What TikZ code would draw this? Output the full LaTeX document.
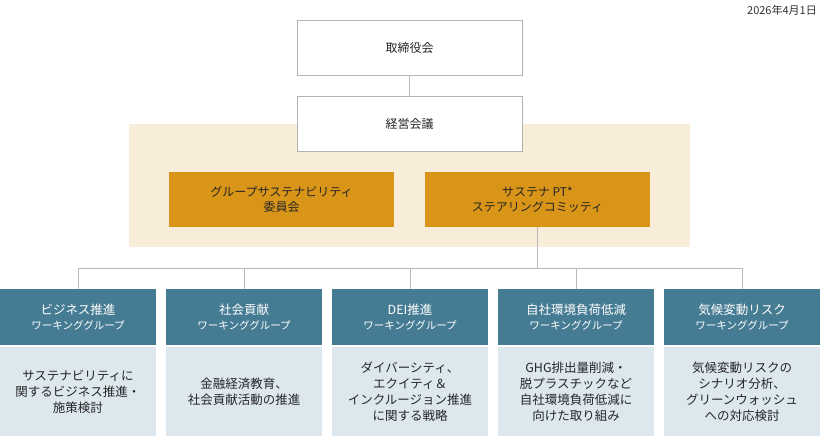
\documentclass[tikz,border=0pt]{standalone}
\usepackage{fontspec}
\setmainfont{Noto Sans CJK JP}
\begin{document}
\begin{tikzpicture}[x=1pt,y=-1pt,
 box/.style={draw=gray!60,fill=white,minimum width=225pt,minimum height=55pt,inner sep=0pt,font=\fontsize{12}{15}\selectfont,text=black!85},
 org/.style={fill=orange1,minimum width=225pt,minimum height=55pt,inner sep=0pt,align=center,font=\fontsize{12}{15}\selectfont,text=black!85},
 hd/.style={fill=teal1,minimum width=156pt,minimum height=56pt,inner sep=0pt,align=center,text=white,font=\fontsize{12.5}{17}\selectfont},
 bd/.style={fill=light1,minimum width=156pt,minimum height=89pt,inner sep=0pt,align=center,text=black!85,font=\fontsize{12.5}{16}\selectfont},
 ln/.style={draw=gray!55,line width=0.9pt}]
\definecolor{orange1}{HTML}{D99518}
\definecolor{teal1}{HTML}{467C93}
\definecolor{light1}{HTML}{DCE8EE}
\definecolor{beige}{HTML}{F8EDD8}
\useasboundingbox (0,0) rectangle (820,436);
\node[anchor=north east,font=\fontsize{11}{13}\selectfont,text=black!80,inner sep=0pt] (date) at (817,5) {2026年4月1日};
\fill[beige] (129,124) rectangle (690,247);
\node[box] (bod) at (409.5,47.5) {取締役会};
\node[box] (mgm) at (409.5,123.5) {経営会議};
\draw[ln] (bod) -- (mgm);
\node[org] (com) at (281.5,199.5) {グループサステナビリティ\\委員会};
\node[org] (pt) at (537.5,199.5) {サステナ PT*\\ステアリングコミッティ};
\coordinate (j) at (537.5,268);
\coordinate (l) at (78,268);
\coordinate (r) at (742,268);
\draw[ln] (pt) -- (j);
\draw[ln] (l) -- (r);
\foreach \i/\x/\a/\b in {1/78/ビジネス推進/{サステナビリティに\\関するビジネス推進・\\施策検討},
 2/244/社会貢献/{金融経済教育、\\社会貢献活動の推進},
 3/410/DEI推進/{ダイバーシティ、\\エクイティ＆\\インクルージョン推進\\に関する戦略},
 4/576/自社環境負荷低減/{GHG排出量削減・\\脱プラスチックなど\\自社環境負荷低減に\\向けた取り組み},
 5/742/気候変動リスク/{気候変動リスクの\\シナリオ分析、\\グリーンウォッシュ\\への対応検討}}{
 \node[hd] (h\i) at (\x,317) {\a\\[-2pt]{\fontsize{10.5}{13}\selectfont ワーキンググループ}};
 \node[bd] (b\i) at (\x,391.5) {\b};
 \coordinate (t\i) at (\x,268);
 \draw[ln] (t\i) -- (h\i.north);
}
\end{tikzpicture}
\end{document}
